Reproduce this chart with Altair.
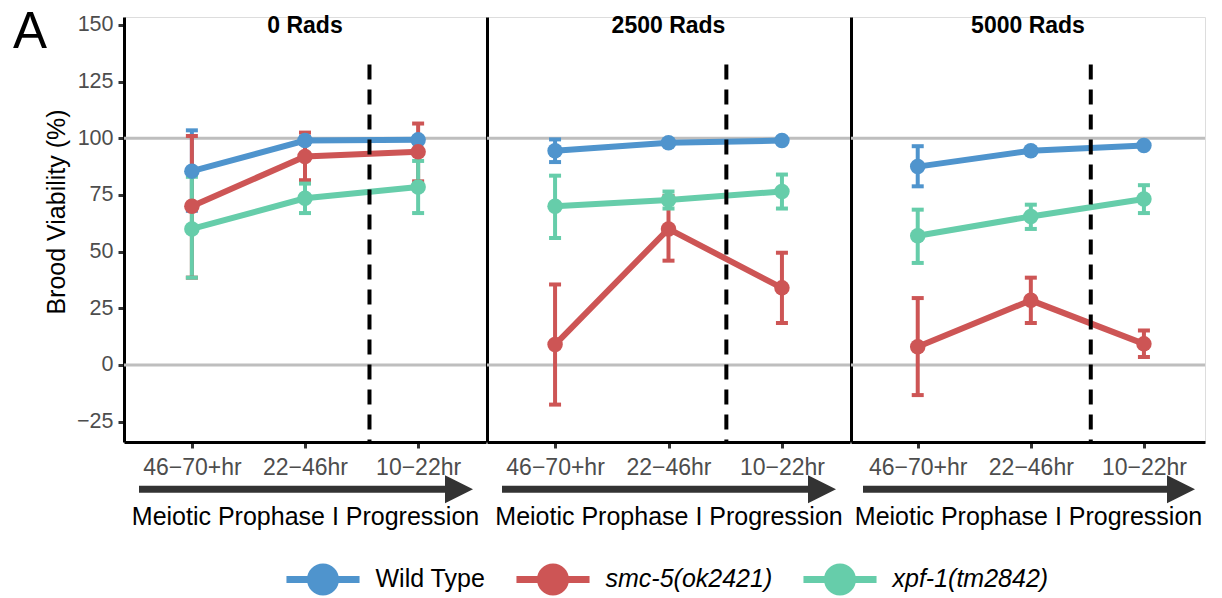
import altair as alt
import pandas as pd

# ---------------- data ----------------
stages = ["46\u221270+hr", "22\u221246hr", "10\u221222hr"]
stage_pos = [1, 2, 3]
doses = ["0 Rads", "2500 Rads", "5000 Rads"]
genotypes = ["Wild Type", "smc-5(ok2421)", "xpf-1(tm2842)"]
palette = ["#4F94CD", "#CD5555", "#66CDAA"]

# brood viability (%) per stage, with error-bar limits
mean_0 = {"Wild Type": [85.5, 99.0, 99.3], "smc-5(ok2421)": [70.0, 92.0, 94.0], "xpf-1(tm2842)": [60.0, 73.5, 78.5]}
low_0 = {"Wild Type": [68.0, 97.5, 98.0], "smc-5(ok2421)": [38.5, 81.5, 81.0], "xpf-1(tm2842)": [38.5, 67.0, 67.0]}
high_0 = {"Wild Type": [103.5, 100.5, 100.5], "smc-5(ok2421)": [101.0, 102.5, 106.5], "xpf-1(tm2842)": [83.0, 80.0, 90.0]}

mean_2500 = {"Wild Type": [94.5, 98.0, 99.0], "smc-5(ok2421)": [9.0, 60.0, 34.0], "xpf-1(tm2842)": [70.0, 72.8, 76.5]}
low_2500 = {"Wild Type": [89.5, 97.0, 98.0], "smc-5(ok2421)": [-17.5, 46.0, 18.5], "xpf-1(tm2842)": [56.0, 69.0, 69.0]}
high_2500 = {"Wild Type": [99.5, 99.0, 100.0], "smc-5(ok2421)": [35.5, 74.5, 49.5], "xpf-1(tm2842)": [83.5, 76.5, 84.0]}

mean_5000 = {"Wild Type": [87.5, 94.5, 96.8], "smc-5(ok2421)": [8.0, 28.5, 9.3], "xpf-1(tm2842)": [57.0, 65.5, 73.2]}
low_5000 = {"Wild Type": [78.8, 93.5, 96.0], "smc-5(ok2421)": [-13.3, 18.5, 3.5], "xpf-1(tm2842)": [45.0, 60.0, 67.0]}
high_5000 = {"Wild Type": [96.5, 95.5, 97.5], "smc-5(ok2421)": [29.5, 38.5, 15.2], "xpf-1(tm2842)": [68.5, 70.7, 79.3]}

ref_levels = [0, 100]
dash_pos = [2.57, 2.51, 2.53]
dash_top = 132.5
y_ticks = [-25, 0, 25, 50, 75, 100, 125, 150]

# ---------------- tables ----------------
means = [mean_0, mean_2500, mean_5000]
lows = [low_0, low_2500, low_5000]
highs = [high_0, high_2500, high_5000]
rows = []
for di, dose in enumerate(doses):
    for g in genotypes:
        for si in range(3):
            rows.append({"dose": dose, "genotype": g, "stage": stage_pos[si],
                         "mean": means[di][g][si], "lo": lows[di][g][si], "hi": highs[di][g][si]})
df = pd.DataFrame(rows)
ref_df = pd.DataFrame({"ref": ref_levels})

FONT = "Liberation Sans"
H = 425
widths = [362, 363, 354]
x_domains = [[0.4, 3.6], [0.4, 3.6], [0.41, 3.54]]
arrow_tail = [15, 15, 12]
arrow_head = [335, 335, 330]

label_expr = "[" + ",".join("'" + s + "'" for s in stages) + "][datum.value - 1]"
legend_path = ("M-2.03,-0.19L2.03,-0.19L2.03,0.19L-2.03,0.19Z "
               "M0.89,0A0.89,0.89,0,1,1,-0.89,0A0.89,0.89,0,1,1,0.89,0Z")
legend = alt.Legend(
    title=None, orient="none", legendX=181, legendY=544, direction="horizontal",
    symbolType=legend_path, symbolSize=1296, symbolStrokeWidth=0, symbolOpacity=1,
    labelFont=FONT, labelFontSize=25, labelColor="black", labelOffset=34.5,
    columnPadding=30, labelLimit=400,
    labelFontStyle=alt.ExprRef(expr="datum.label == 'Wild Type' ? 'normal' : 'italic'"),
)
color = alt.Color("genotype:N", scale=alt.Scale(domain=genotypes, range=palette), legend=legend)


def panel(i):
    d = df[df["dose"] == doses[i]]
    one = pd.DataFrame({"dose": [doses[i]], "pos": [dash_pos[i]], "top": [dash_top]})
    xs = alt.Scale(domain=x_domains[i], nice=False, zero=False)
    ys = alt.Scale(domain=[-34, 153.5], nice=False, zero=False)
    xaxis = alt.Axis(values=stage_pos, labelExpr=label_expr, grid=False, labelFlush=False,
                     title="Meiotic Prophase I Progression", titleFont=FONT, titleFontSize=25,
                     titleFontWeight="normal", titleColor="black", titlePadding=25,
                     labelFont=FONT, labelFontSize=23, labelColor="#4D4D4D", labelPadding=8.3,
                     tickSize=6, tickWidth=3, tickColor="#333333",
                     domainColor="black", domainWidth=3)
    if i == 0:
        yaxis = alt.Axis(values=y_ticks, grid=False, labelFlush=False,
                         labelExpr="replace(datum.label, '-', '\u2212')",
                         title="Brood Viability (%)", titleFont=FONT, titleFontSize=25,
                         titleFontWeight="normal", titleColor="black", titlePadding=7,
                         titleY=194.5,
                         labelFont=FONT, labelFontSize=21.5, labelColor="#4D4D4D", labelPadding=5,
                         tickSize=6, tickWidth=3, tickColor="#333333",
                         domainColor="black", domainWidth=3)
    else:
        yaxis = alt.Axis(labels=False, ticks=False, title=None, grid=False,
                         domainColor="black", domainWidth=3)
    X = alt.X("stage:Q", scale=xs, axis=xaxis)

    refs = alt.Chart(ref_df).mark_rule(color="#BEBEBE", strokeWidth=3).encode(
        y=alt.Y("ref:Q", scale=ys, axis=yaxis))
    lines = alt.Chart(d).mark_line(strokeWidth=6).encode(
        x=X, y=alt.Y("mean:Q", scale=ys, axis=yaxis), color=color)
    err = alt.Chart(d).mark_rule(strokeWidth=4).encode(
        x=X, y=alt.Y("lo:Q", scale=ys, axis=yaxis), y2="hi:Q", color=color)
    cap_lo = alt.Chart(d).mark_tick(orient="horizontal", size=12, thickness=4, opacity=1).encode(
        x=X, y=alt.Y("lo:Q", scale=ys, axis=yaxis), color=color)
    cap_hi = alt.Chart(d).mark_tick(orient="horizontal", size=12, thickness=4, opacity=1).encode(
        x=X, y=alt.Y("hi:Q", scale=ys, axis=yaxis), color=color)
    pts = alt.Chart(d).mark_circle(size=240, opacity=1).encode(
        x=X, y=alt.Y("mean:Q", scale=ys, axis=yaxis), color=color)
    dash = alt.Chart(one).mark_rule(color="black", strokeWidth=4, strokeDash=[15, 10]).encode(
        x=alt.X("pos:Q", scale=xs, axis=xaxis), y=alt.Y("top:Q", scale=ys, axis=yaxis),
        y2=alt.value(H))
    shaft = alt.Chart(one).mark_rule(color="#333333", strokeWidth=7).encode(
        x=alt.value(arrow_tail[i]), x2=alt.value(arrow_head[i] - 12), y=alt.value(H + 47.3))
    head = alt.Chart(one).mark_point(shape="M-1,-1L1,0L-1,1Z", size=784, filled=True,
                                     color="#333333", opacity=1).encode(
        x=alt.value(arrow_head[i]), y=alt.value(H + 47.3))
    strip = alt.Chart(one).mark_text(font=FONT, fontSize=23, fontWeight="bold", align="center",
                                     baseline="alphabetic", color="black").encode(
        text="dose:N", x=alt.value(widths[i] / 2), y=alt.value(16))
    layers = [refs, lines, err, cap_lo, cap_hi, pts, dash, shaft, head, strip]
    if i == 0:
        letter = alt.Chart(one).mark_text(text="A", font=FONT, fontSize=51, align="left",
                                          baseline="alphabetic", color="black").encode(
            x=alt.value(-111), y=alt.value(31))
        layers.append(letter)
    return alt.layer(*layers).properties(width=widths[i], height=H)


chart = alt.hconcat(panel(0), panel(1), panel(2), spacing=1, bounds="flush").properties(
    padding={"left": 12, "top": 6, "right": 0, "bottom": 0}
).configure_view(stroke=None).configure(font=FONT)

chart.save("out.html", embed_options={"renderer": "svg", "actions": False})
